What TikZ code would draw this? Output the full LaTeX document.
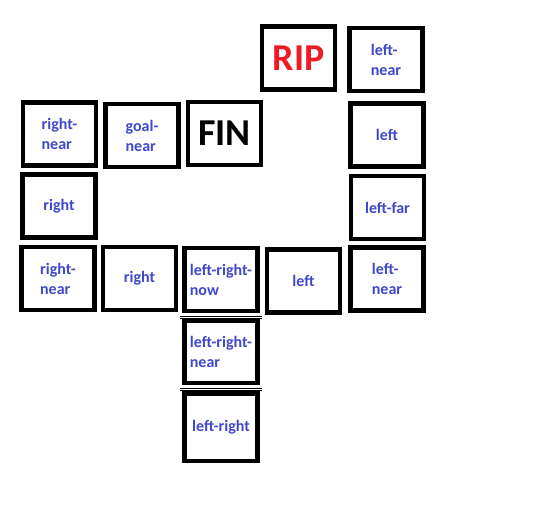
\documentclass[tikz,border=0pt]{standalone}
\usepackage{fontspec}
\setmainfont{Carlito}
\usepackage{xcolor}
\definecolor{cellblue}{RGB}{63,72,204}
\definecolor{ripred}{RGB}{237,28,36}

\begin{document}
\begin{tikzpicture}[x=1pt,y=-1pt,
    cell/.style={draw, line width=4.5pt, minimum width=73pt, minimum height=63pt,
      inner sep=0pt, align=left, text=cellblue,
      font=\fontsize{16}{20}\selectfont\bfseries},
    bigword/.style={font=\fontsize{38}{40}\selectfont\bfseries},
    sep/.style={line width=1pt, double, double distance=1.5pt}]
      \useasboundingbox (0,0) rectangle (544,515);

      %top row: RIP, left-near
      \node[cell, bigword, text=ripred] (rip) at (298.5,58) {RIP};
      \node[cell] (lnearA) at (386,59.5) {left-\\near};

      %second row
      \node[cell] (rnearA) at (59.5,134) {right-\\near};
      \node[cell] (gnear) at (142,135.5) {goal-\\near};
      \node[cell, bigword, text=black] (fin) at (224.5,133.5) {FIN};
      \node[cell] (leftA) at (387,135) {left};

      %third row
      \node[cell] (rightA) at (59,206) {right};
      \node[cell] (lfar) at (387.5,207.5) {left-far};

      %fourth row
      \node[cell] (rnearB) at (58,278.5) {right-\\near};
      \node[cell] (rightB) at (139.5,278.5) {right};
      \node[cell] (lrnow) at (221,279.5) {left-right-\\now};
      \node[cell] (leftB) at (303.5,281) {left};
      \node[cell] (lnearB) at (387,279) {left-\\near};

      % column below left-right-now
      \node[cell, minimum height=62.5pt] (lrnear) at (221,351.5) {left-right-\\near};
      \node[cell, minimum height=67.5pt] (lr) at (221,427) {left-right};

      % thin double lines between the column cells
      \draw[sep] ([xshift=-2.3pt,yshift=-4pt]lrnow.south west) -- ([xshift=2.3pt,yshift=-4pt]lrnow.south east);
      \draw[sep] ([xshift=-2.3pt,yshift=-4.5pt]lrnear.south west) -- ([xshift=2.3pt,yshift=-4.5pt]lrnear.south east);
\end{tikzpicture}
\end{document}
